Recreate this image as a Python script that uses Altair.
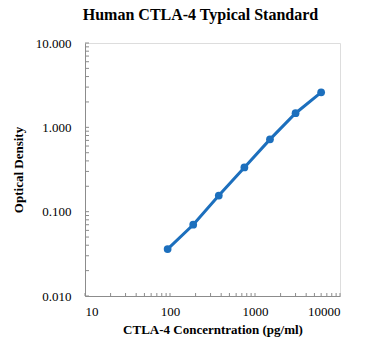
import altair as alt
import pandas as pd

conc = [93.75, 187.5, 375, 750, 1500, 3000, 6000]
od = [0.036, 0.070, 0.155, 0.335, 0.72, 1.47, 2.60]

x_ticks = [10, 20, 30, 40, 50, 60, 70, 80, 90, 100, 200, 300, 400, 500, 600, 700, 800, 900,
           1000, 2000, 3000, 4000, 5000, 6000, 7000, 8000, 9000, 10000]
y_ticks = [0.01, 0.02, 0.03, 0.04, 0.05, 0.06, 0.07, 0.08, 0.09, 0.1, 0.2, 0.3, 0.4, 0.5, 0.6,
           0.7, 0.8, 0.9, 1, 2, 3, 4, 5, 6, 7, 8, 9, 10]
x_labels = [10, 100, 1000, 10000]
y_labels = [0.01, 0.1, 1, 10]

W, H = 255, 253
BLUE = "#1c6fbd"
GRAY = "#8c8c8c"
FONT = "Liberation Serif"

df = pd.DataFrame({"conc": conc, "od": od})
xt = pd.DataFrame({"t": x_ticks})
yt = pd.DataFrame({"t": y_ticks})

xscale = alt.Scale(type="log", domain=[10, 10000])
yscale = alt.Scale(type="log", domain=[0.01, 10])

xaxis = alt.Axis(values=x_labels, format="d", grid=False, ticks=False, domainColor=GRAY,
                 labelFont=FONT, labelFontSize=13, labelColor="#000", labelPadding=9,
                 title="CTLA-4 Concerntration (pg/ml)", titleFont=FONT, titleFontSize=13,
                 titleFontWeight="bold", titleColor="#000", titlePadding=5)
yaxis = alt.Axis(values=y_labels, format=".3f", grid=False, ticks=False, domainColor=GRAY,
                 labelFont=FONT, labelFontSize=13, labelColor="#000", labelPadding=14,
                 title="Optical Density", titleFont=FONT, titleFontSize=13,
                 titleFontWeight="bold", titleColor="#000", titlePadding=10)

line = alt.Chart(df).mark_line(color=BLUE, strokeWidth=3).encode(
    x=alt.X("conc:Q", scale=xscale, axis=xaxis),
    y=alt.Y("od:Q", scale=yscale, axis=yaxis),
)
pts = alt.Chart(df).mark_point(filled=True, color=BLUE, size=60, opacity=1).encode(
    x=alt.X("conc:Q", scale=xscale),
    y=alt.Y("od:Q", scale=yscale),
)
xtk = alt.Chart(xt).mark_rule(color=GRAY, strokeWidth=1).encode(
    x=alt.X("t:Q", scale=xscale),
    y=alt.value(H), y2=alt.value(H - 3),
)
ytk = alt.Chart(yt).mark_rule(color=GRAY, strokeWidth=1).encode(
    y=alt.Y("t:Q", scale=yscale),
    x=alt.value(0), x2=alt.value(4),
)

chart = alt.layer(xtk, ytk, line, pts).properties(
    width=W, height=H,
    title=alt.TitleParams("Human CTLA-4 Typical Standard", font=FONT, fontSize=16,
                          fontWeight="bold", color="#000", anchor="middle", dx=-12, offset=14),
    autosize=alt.AutoSizeParams(type="none"),
    padding={"left": 85, "top": 43, "right": 31, "bottom": 56},
).configure_view(stroke=None).configure(background="white")

chart.save("out.html", embed_options={"renderer": "svg", "actions": False})
